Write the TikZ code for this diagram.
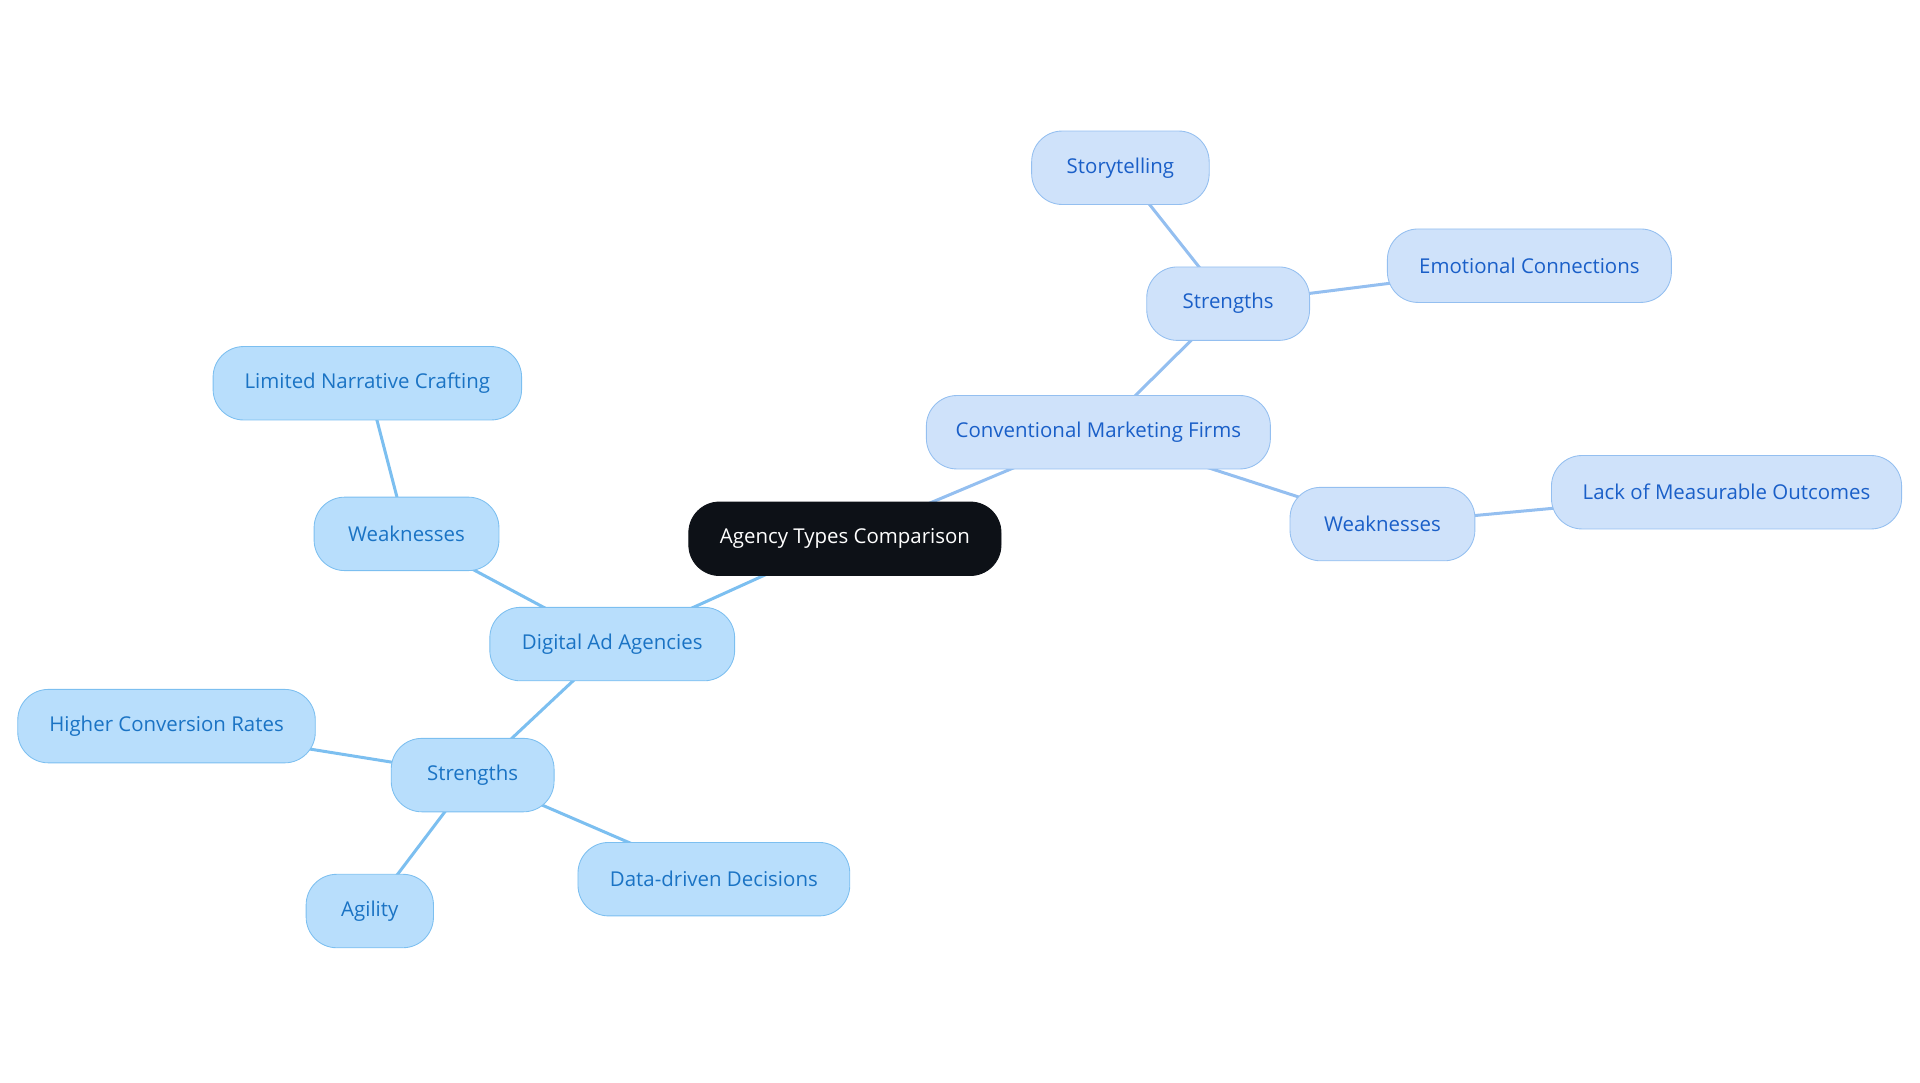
\documentclass[tikz,border=0pt]{standalone}
\usepackage{fontspec}
\setmainfont{Open Sans}
\usetikzlibrary{backgrounds}
\definecolor{rootfill}{HTML}{0D1117}
\definecolor{cfill}{HTML}{CFE2FA}
\definecolor{cline}{HTML}{94BFF0}
\definecolor{ctext}{HTML}{1A5FC8}
\definecolor{dfill}{HTML}{B8DEFC}
\definecolor{dline}{HTML}{7CBFF0}
\definecolor{dtext}{HTML}{1A73C4}
\begin{document}
\begin{tikzpicture}[x=0.02cm, y=-0.02cm,
  topic/.style={rectangle, rounded corners=0.5cm, minimum height=1.2cm, inner xsep=0pt, font=\fontsize{9.5}{11}\selectfont},
  root/.style={topic, fill=rootfill, draw=rootfill, text=white},
  conv/.style={topic, fill=cfill, draw=cline, text=ctext},
  digi/.style={topic, fill=dfill, draw=dline, text=dtext},
  clink/.style={draw=cline, line width=1.4pt},
  dlink/.style={draw=dline, line width=1.4pt}]
\useasboundingbox (0,0) rectangle (1568,884);
\node[root, minimum width=5.1cm] (agency) at (690,440) {Agency Types Comparison};
% conventional branch
\node[conv, minimum width=5.62cm] (conventional) at (897,353) {Conventional Marketing Firms};
\node[conv, minimum width=2.66cm] (cstrengths) at (1003,248) {Strengths};
\node[conv, minimum width=2.9cm] (story) at (915,137) {Storytelling};
\node[conv, minimum width=4.64cm] (emotion) at (1249,217) {Emotional Connections};
\node[conv, minimum width=3.02cm] (cweak) at (1129,428) {Weaknesses};
\node[conv, minimum width=5.72cm] (measure) at (1410,402) {Lack of Measurable Outcomes};
% digital branch
\node[digi, minimum width=4cm] (digital) at (500,526) {Digital Ad Agencies};
\node[digi, minimum width=3.02cm] (dweak) at (332,436) {Weaknesses};
\node[digi, minimum width=5.04cm] (narrative) at (300,313) {Limited Narrative Crafting};
\node[digi, minimum width=2.66cm] (dstrengths) at (386,633) {Strengths};
\node[digi, minimum width=4.86cm] (conversion) at (136,593) {Higher Conversion Rates};
\node[digi, minimum width=2.08cm] (agility) at (302,744) {Agility};
\node[digi, minimum width=4.44cm] (datadriven) at (583,718) {Data-driven Decisions};
\begin{scope}[on background layer]
\path[clink] (agency.center) -- (conventional.center);
\path[clink] (conventional.center) -- (cstrengths.center);
\path[clink] (cstrengths.center) -- (story.center);
\path[clink] (cstrengths.center) -- (emotion.center);
\path[clink] (conventional.center) -- (cweak.center);
\path[clink] (cweak.center) -- (measure.center);
\path[dlink] (agency.center) -- (digital.center);
\path[dlink] (digital.center) -- (dweak.center);
\path[dlink] (dweak.center) -- (narrative.center);
\path[dlink] (digital.center) -- (dstrengths.center);
\path[dlink] (dstrengths.center) -- (conversion.center);
\path[dlink] (dstrengths.center) -- (agility.center);
\path[dlink] (dstrengths.center) -- (datadriven.center);
\end{scope}
\end{tikzpicture}
\end{document}
